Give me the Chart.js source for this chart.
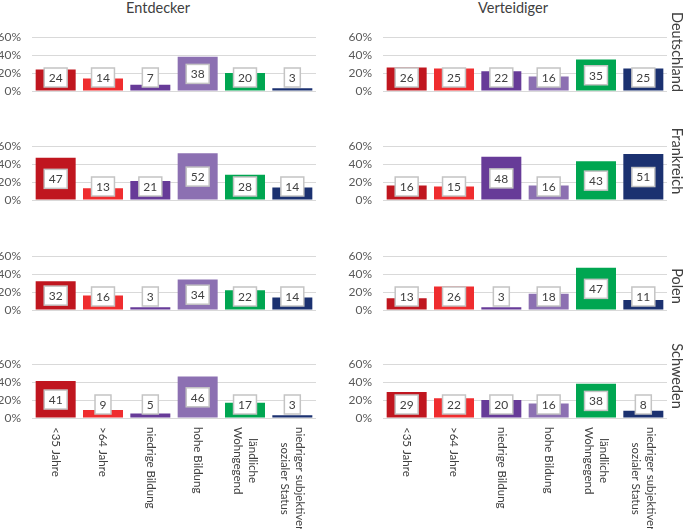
<!DOCTYPE html>
<html>
<head>
<meta charset="utf-8">
<script src="https://cdn.jsdelivr.net/npm/chart.js@4/dist/chart.umd.min.js"></script>
<style>
  body { margin: 0; background: #fff; }
  #wrap { position: relative; width: 685px; height: 529px; overflow: hidden; font-family: Lato, "Liberation Sans", sans-serif; }
  canvas { position: absolute; }
  .title { position: absolute; top: -1px; font-size: 14.5px; color: #404040; white-space: nowrap; transform: translateX(-50%); }
  .row { position: absolute; font-size: 14.5px; color: #404040; white-space: nowrap; transform: translate(-50%, -50%) rotate(90deg); }
</style>
</head>
<body>
<div id="wrap">
  <div class="title" style="left:158px">Entdecker</div>
  <div class="title" style="left:513px">Verteidiger</div>
</div>
<script>
// Categories and colours
const categories = ['<35 Jahre', '>64 Jahre', 'niedrige Bildung', 'hohe Bildung', ['ländliche', 'Wohngegend'], ['niedriger subjektiver', 'sozialer Status']];
const barColors = ['#C0161F', '#EF2D2F', '#673B98', '#8C70B2', '#00A651', '#1B3170'];
const countries = ['Deutschland', 'Frankreich', 'Polen', 'Schweden'];
const yTicks = [0, 20, 40, 60];

// Values per country (percent)
const entdeckerDE = [24, 14, 7, 38, 20, 3];
const entdeckerFR = [47, 13, 21, 52, 28, 14];
const entdeckerPL = [32, 16, 3, 34, 22, 14];
const entdeckerSE = [41, 9, 5, 46, 17, 3];
const verteidigerDE = [26, 25, 22, 16, 35, 25];
const verteidigerFR = [16, 15, 48, 16, 43, 51];
const verteidigerPL = [13, 26, 3, 18, 47, 11];
const verteidigerSE = [29, 22, 20, 16, 38, 8];

const entdecker = [entdeckerDE, entdeckerFR, entdeckerPL, entdeckerSE];
const verteidiger = [verteidigerDE, verteidigerFR, verteidigerPL, verteidigerSE];

const FONT = 'Lato, "Liberation Sans", sans-serif';
const gridTops = [37, 146, 256, 364];
const labelCenters = [52, 161, 286, 376];

// white boxes with the numbers
const valueLabels = {
  id: 'valueLabels',
  afterDatasetsDraw(chart) {
    const ctx = chart.ctx;
    const yScale = chart.scales.y;
    const meta = chart.getDatasetMeta(0);
    const vals = chart.data.datasets[0].data;
    ctx.save();
    ctx.font = '12px ' + FONT;
    ctx.textAlign = 'center';
    ctx.textBaseline = 'middle';
    meta.data.forEach((bar, i) => {
      const v = vals[i];
      const y = yScale.getPixelForValue(Math.max(v / 2, 15));
      const w = ctx.measureText(String(v)).width + 9;
      const h = 19;
      ctx.fillStyle = '#fff';
      ctx.fillRect(bar.x - w / 2, y - h / 2, w, h);
      ctx.strokeStyle = '#c4c4c4';
      ctx.lineWidth = 1.5;
      ctx.strokeRect(bar.x - w / 2, y - h / 2, w, h);
      ctx.fillStyle = '#404040';
      ctx.fillText(String(v), bar.x, y + 0.5);
    });
    ctx.restore();
  }
};

// category names, rotated clockwise under the bottom row
const categoryLabels = {
  id: 'categoryLabels',
  afterDraw(chart) {
    const ctx = chart.ctx;
    const xScale = chart.scales.x;
    const top = chart.chartArea.bottom + 9;
    ctx.save();
    ctx.font = '11.5px ' + FONT;
    ctx.fillStyle = '#404040';
    ctx.textAlign = 'center';
    ctx.textBaseline = 'middle';
    categories.forEach((label, i) => {
      const lines = Array.isArray(label) ? label : [label];
      const maxW = Math.max(...lines.map(l => ctx.measureText(l).width));
      const x = xScale.getPixelForValue(i);
      ctx.save();
      ctx.translate(x, top);
      ctx.rotate(Math.PI / 2);
      lines.forEach((line, j) => {
        ctx.fillText(line, maxW / 2, (j - (lines.length - 1) / 2) * 15);
      });
      ctx.restore();
    });
    ctx.restore();
  }
};

function makePanel(values, row, col) {
  const wrap = document.getElementById('wrap');
  const canvas = document.createElement('canvas');
  const isBottom = row === 3;
  const left = col === 0 ? 0 : 340;
  const width = col === 0 ? 340 : 345;
  const top = gridTops[row] - 10;
  const height = isBottom ? 529 - top : 74;
  canvas.width = width;
  canvas.height = height;
  canvas.style.left = left + 'px';
  canvas.style.top = top + 'px';
  wrap.insertBefore(canvas, wrap.firstChild);

  const axisWidth = col === 0 ? 32 : 43;
  new Chart(canvas, {
    type: 'bar',
    data: {
      labels: categories,
      datasets: [{
        data: values,
        backgroundColor: barColors,
        categoryPercentage: 1,
        barPercentage: 0.845
      }]
    },
    options: {
      responsive: false,
      animation: false,
      events: [],
      layout: { padding: { top: 10, bottom: height - 64, left: 0, right: col === 0 ? 24 : 18 } },
      plugins: { legend: { display: false }, tooltip: { enabled: false } },
      scales: {
        x: { display: false },
        y: {
          min: 0,
          max: 60,
          afterBuildTicks: s => { s.ticks = yTicks.map(v => ({ value: v })); },
          afterFit: s => { s.width = axisWidth; },
          ticks: { padding: 0, color: '#595959', font: { family: FONT, size: 12 }, callback: v => v + '%' },
          grid: { color: '#d9d9d9', drawTicks: true, tickLength: 11, tickColor: 'rgba(0,0,0,0)' },
          border: { display: false }
        }
      }
    },
    plugins: isBottom ? [valueLabels, categoryLabels] : [valueLabels]
  });
}

entdecker.forEach((vals, r) => makePanel(vals, r, 0));
verteidiger.forEach((vals, r) => makePanel(vals, r, 1));

// country names at the right side
countries.forEach((name, r) => {
  const d = document.createElement('div');
  d.className = 'row';
  d.style.left = '677px';
  d.style.top = labelCenters[r] + 'px';
  d.textContent = name;
  document.getElementById('wrap').appendChild(d);
});
</script>
</body>
</html>
